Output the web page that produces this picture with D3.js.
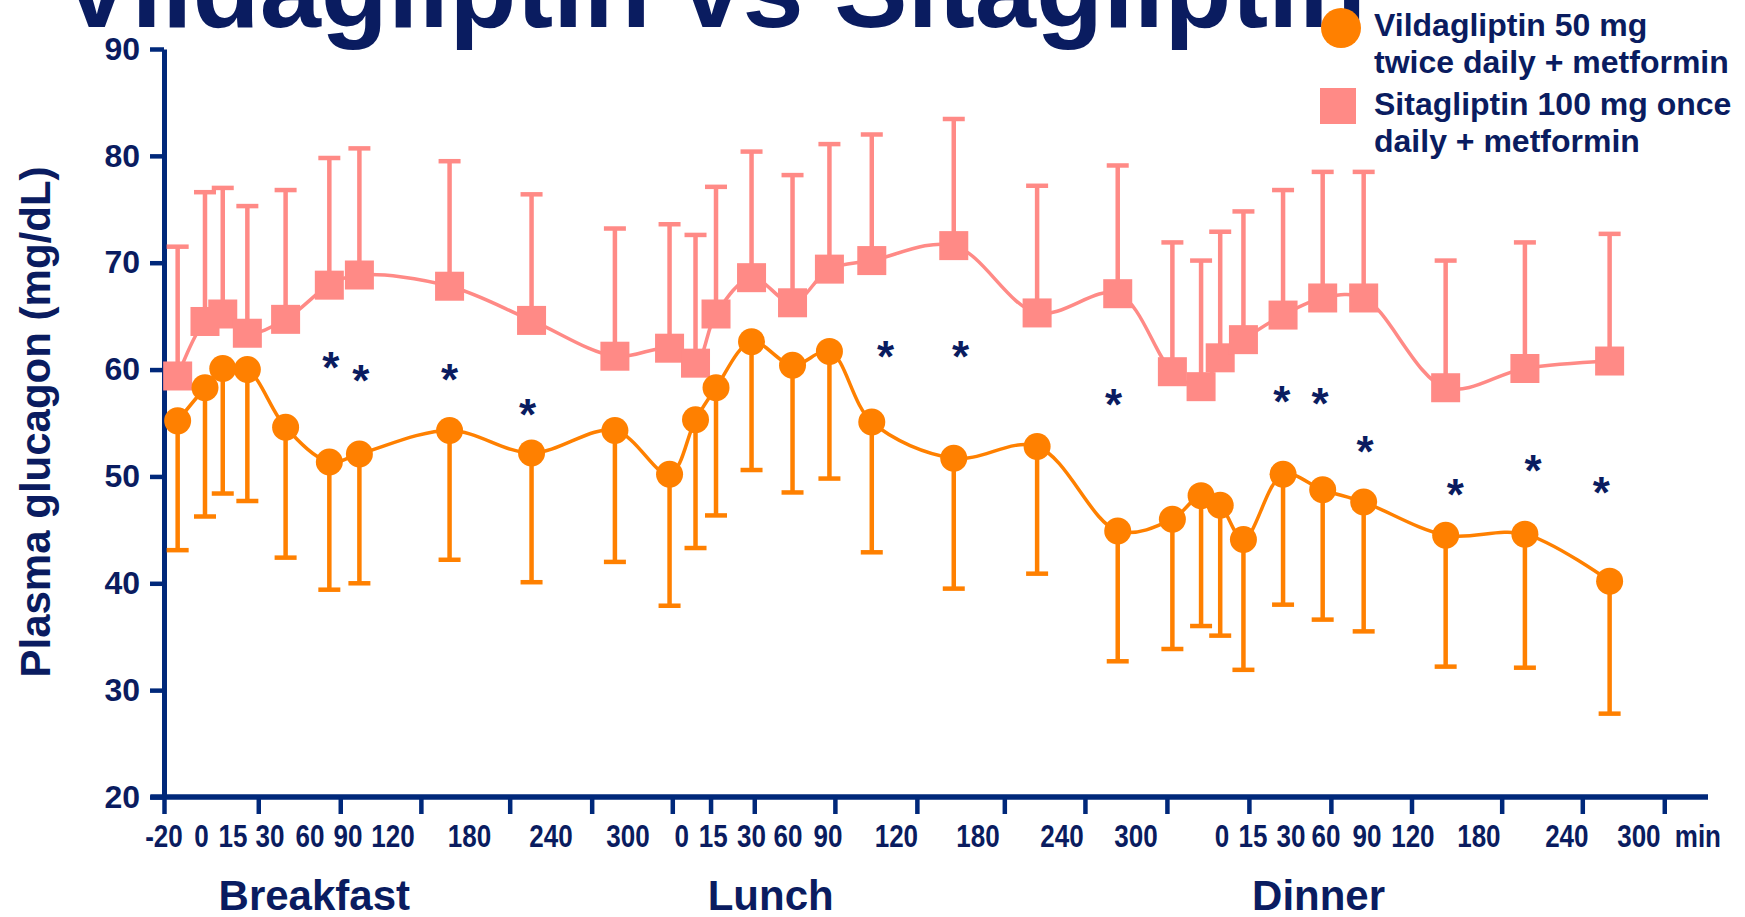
<!DOCTYPE html>
<html>
<head>
<meta charset="utf-8">
<script src="https://cdn.jsdelivr.net/npm/d3@7"></script>
<style>
  body { margin: 0; background: #fff; }
  svg { display: block; font-family: "Liberation Sans", Arial, sans-serif; font-weight: bold; }
</style>
</head>
<body>
<svg id="chart" width="1745" height="917"></svg>
<script>
// sampling times, minutes from breakfast (one running clock through the day)
const minutes = [-20, 0, 13, 31, 59, 91, 113, 179, 239, 300,
  340, 359, 374, 400, 430, 457, 488, 548, 609, 668,
  708, 729, 743, 760, 789, 818, 848, 908, 966, 1028];

// vildagliptin 50 mg bid + metformin (mean, error bar drawn downward)
const vildaMean = [55.2, 58.3, 60.1, 60.0, 54.6, 51.35, 52.1, 54.3, 52.2, 54.3,
  50.2, 55.3, 58.3, 62.6, 60.4, 61.7, 55.1, 51.7, 52.8, 44.9,
  46.0, 48.2, 47.3, 44.1, 50.2, 48.75, 47.6, 44.5, 44.6, 40.2];
const vildaErr = [12.1, 12.05, 11.7, 12.3, 12.2, 11.95, 12.1, 12.1, 12.1, 12.3,
  12.3, 12.0, 11.95, 12.0, 11.9, 11.9, 12.2, 12.2, 11.9, 12.2,
  12.15, 12.2, 12.2, 12.2, 12.2, 12.15, 12.1, 12.3, 12.5, 12.4];

// sitagliptin 100 mg qd + metformin (mean, error bar drawn upward)
const sitaMean = [59.4, 64.5, 65.2, 63.4, 64.7, 67.9, 68.85, 67.8, 64.6, 61.25,
  62.0, 60.6, 65.2, 68.6, 66.25, 69.4, 70.2, 71.6, 65.3, 67.1,
  59.8, 58.4, 61.1, 62.8, 65.1, 66.7, 66.7, 58.3, 60.1, 60.8];
const sitaErr = [12.1, 12.1, 11.8, 11.9, 12.1, 11.9, 11.85, 11.7, 11.8, 11.95,
  11.6, 12.0, 11.9, 11.8, 11.95, 11.7, 11.8, 11.85, 11.9, 12.0,
  12.1, 11.8, 11.8, 12.0, 11.7, 11.8, 11.8, 11.9, 11.8, 11.9];

// significance asterisks
const starMinutes = [92, 114, 179, 236, 498, 553, 665, 788, 816, 849, 915, 972, 1022];
const starValues = [61.0, 59.8, 59.9, 56.6, 62.0, 62.0, 57.5, 57.8, 57.6, 53.1, 49.1, 51.35, 49.3];

const yTicks = [20, 30, 40, 50, 60, 70, 80, 90];
const xTickMinutes = [-30, 39, 99, 158, 223, 283, 342, 370, 402, 461, 521, 585,
  644, 704, 764, 824, 883, 949, 1008, 1068];
const xLabelText = ['-20', '0', '15', '30', '60', '90', '120', '180', '240', '300',
  '0', '15', '30', '60', '90', '120', '180', '240', '300',
  '0', '15', '30', '60', '90', '120', '180', '240', '300', 'min'];
const xLabelMinutes = [-30, -2.6, 20.5, 47.6, 76.8, 104.7, 137.6, 193.6, 253.2, 309.6,
  349, 372, 400, 426.7, 456, 506, 565.7, 627.2, 681.4,
  744.3, 767, 794.8, 820.4, 850.4, 884, 932.3, 996.7, 1049.4, 1092.6];
const meals = ['Breakfast', 'Lunch', 'Dinner'];
const mealMinutes = [80, 414, 815];

const navy = '#0a1c60';
const axisBlue = '#00287a';
const orange = '#ff8000';
const pink = '#ff8a86';

const svg = d3.select('#chart');
svg.append('rect').attr('width', 1745).attr('height', 917).attr('fill', '#fff');

const x = d3.scaleLinear().domain([-30, 1100]).range([164, 1708]);
const y = d3.scaleLinear().domain([20, 90]).range([797, 49]);

// title, mostly pushed off the top of the slide
svg.append('text')
  .attr('x', 60).attr('y', 27)
  .attr('font-size', 110).attr('fill', navy)
  .text('Vildagliptin vs Sitagliptin');

// y axis
const yAxis = svg.append('g')
  .attr('transform', `translate(${x(-30)},0)`)
  .call(d3.axisLeft(y).tickValues(yTicks).tickSize(14).tickSizeOuter(0).tickPadding(10));
yAxis.select('.domain').attr('stroke', axisBlue).attr('stroke-width', 5);
yAxis.selectAll('.tick line').attr('stroke', axisBlue).attr('stroke-width', 4.5);
yAxis.selectAll('.tick text')
  .attr('fill', navy).attr('font-size', 32).attr('font-family', '"Liberation Sans", Arial, sans-serif')
  .attr('font-weight', 'bold');

// x axis: ticks only, labels are placed like the slide's text boxes
const xAxis = svg.append('g')
  .attr('transform', `translate(0,${y(20)})`)
  .call(d3.axisBottom(x).tickValues(xTickMinutes).tickSize(17).tickSizeOuter(0).tickFormat(''));
xAxis.select('.domain').remove();
xAxis.append('line')
  .attr('x1', x(-40)).attr('x2', x(1100))
  .attr('stroke', axisBlue).attr('stroke-width', 5.5);
xAxis.selectAll('.tick line').attr('stroke', axisBlue).attr('stroke-width', 4.5);

svg.append('g').selectAll('text')
  .data(xLabelText)
  .join('text')
  .attr('transform', (d, i) => `translate(${x(xLabelMinutes[i])},847) scale(0.84,1)`)
  .attr('text-anchor', 'middle')
  .attr('font-size', 31).attr('fill', navy)
  .text(d => d);

svg.append('g').selectAll('text')
  .data(meals)
  .join('text')
  .attr('x', (d, i) => x(mealMinutes[i])).attr('y', 910)
  .attr('text-anchor', 'middle')
  .attr('font-size', 42).attr('fill', navy)
  .text(d => d);

// y axis title
svg.append('text')
  .attr('transform', 'translate(50,422) rotate(-90)')
  .attr('text-anchor', 'middle')
  .attr('font-size', 42).attr('fill', navy)
  .text('Plasma glucagon (mg/dL)');

const line = d3.line()
  .x(d => x(d[0])).y(d => y(d[1]))
  .curve(d3.curveCatmullRom.alpha(0.5));

const vilda = minutes.map((m, i) => [m, vildaMean[i], vildaErr[i]]);
const sita = minutes.map((m, i) => [m, sitaMean[i], sitaErr[i]]);

// lines
svg.append('path').datum(sita)
  .attr('d', line).attr('fill', 'none').attr('stroke', pink).attr('stroke-width', 3.5);
svg.append('path').datum(vilda)
  .attr('d', line).attr('fill', 'none').attr('stroke', orange).attr('stroke-width', 3.5);

// error bars
function errorBars(data, color, dir) {
  const g = svg.append('g').attr('stroke', color).attr('stroke-width', 4.5);
  g.selectAll('line.stem').data(data).join('line')
    .attr('class', 'stem')
    .attr('x1', d => x(d[0])).attr('x2', d => x(d[0]))
    .attr('y1', d => y(d[1])).attr('y2', d => y(d[1] + dir * d[2]));
  g.selectAll('line.cap').data(data).join('line')
    .attr('class', 'cap')
    .attr('x1', d => x(d[0]) - 11).attr('x2', d => x(d[0]) + 11)
    .attr('y1', d => y(d[1] + dir * d[2])).attr('y2', d => y(d[1] + dir * d[2]));
}
errorBars(sita, pink, 1);
errorBars(vilda, orange, -1);

// markers
svg.append('g').selectAll('rect').data(sita).join('rect')
  .attr('x', d => x(d[0]) - 14.5).attr('y', d => y(d[1]) - 14.5)
  .attr('width', 29).attr('height', 29).attr('fill', pink);
svg.append('g').selectAll('circle').data(vilda).join('circle')
  .attr('cx', d => x(d[0])).attr('cy', d => y(d[1]))
  .attr('r', 13.5).attr('fill', orange);

// asterisks
svg.append('g').selectAll('text')
  .data(starMinutes)
  .join('text')
  .attr('x', d => x(d))
  .attr('y', (d, i) => y(starValues[i]) + 24)
  .attr('text-anchor', 'middle')
  .attr('font-size', 44).attr('fill', navy)
  .text('*');

// legend
const legend = svg.append('g');
legend.append('circle').attr('cx', 1341).attr('cy', 28).attr('r', 20).attr('fill', orange);
legend.append('rect').attr('x', 1320).attr('y', 88).attr('width', 36).attr('height', 36).attr('fill', pink);
const legendLines = ['Vildagliptin 50 mg', 'twice daily + metformin', 'Sitagliptin 100 mg once', 'daily + metformin'];
const legendBaselines = [35.5, 73, 114.5, 152];
legend.selectAll('text').data(legendLines).join('text')
  .attr('x', 1374).attr('y', (d, i) => legendBaselines[i])
  .attr('font-size', 32).attr('fill', navy)
  .text(d => d);
</script>
</body>
</html>
